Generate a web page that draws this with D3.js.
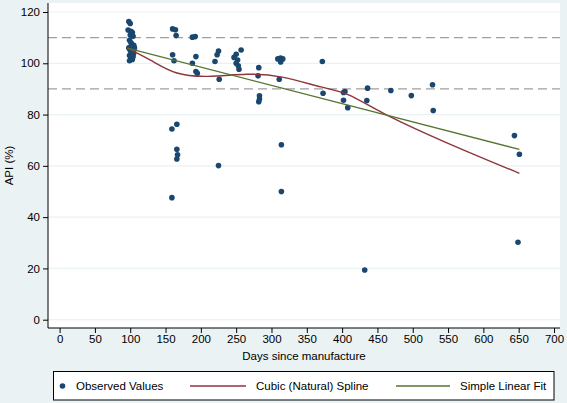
<!DOCTYPE html>
<html><head><meta charset="utf-8">
<script src="https://cdn.jsdelivr.net/npm/d3@7"></script>
<style>
html,body{margin:0;padding:0;background:#eaf2f3;}
svg{display:block;font-family:"Liberation Sans",Arial,sans-serif;}
</style></head>
<body><svg id="c" width="567" height="403"></svg>
<script>
// Observed values: days since manufacture
const obsDays = [98,100,97,101,103,100,104,99,102,105,98,103,100,102,99,104,101,103,99,106,105,101,104,
  160,164,165,160,162,159,166,166,167,166,159,
  192,188,193,188,193,195,
  225,223,220,226,225,
  250,257,252,254,250,247,253,
  282,281,283,282,283,
  313,309,316,313,311,314,314,
  372,373,402,404,402,408,436,435,432,469,498,528,529,644,651,649];
// Observed values: API (%)
const obsAPI = [116.3,115.5,113,112.5,112,111,110.5,109,107.5,107,106,105.5,105,104,103,103.5,102,101.5,101,106,104,108,102.5,
  113.4,113.1,110.8,103.3,101,74.4,76.2,66.5,64.3,62.7,47.6,
  110.4,110.2,102.6,100,96.8,96.1,
  104.8,103.3,100.7,93.8,60.1,
  103.5,105.2,101.3,97.7,100,102.3,99,
  98.3,95.1,87.3,85,86.1,
  102,101.7,101.7,100.5,93.8,68.2,50,
  100.7,88.3,88.6,89,85.6,82.7,90.3,85.5,19.4,89.4,87.4,91.6,81.6,71.8,64.5,30.2];
// Cubic (natural) spline fitted curve
const splineDays = [96,130,165,210,265,315,370,410,460,550,651];
const splineAPI  = [105.9,101,96.3,94.9,95.7,94.6,90.8,87.6,80.3,68.8,57.1];
// Simple linear fit, endpoints
const linDays = [96,651];
const linAPI  = [105.9,66.4];
// Axis ticks and reference lines
const xTicks = [0,50,100,150,200,250,300,350,400,450,500,550,600,650,700];
const yTicks = [0,20,40,60,80,100,120];
const refLines = [110,90];
const legendLabels = ["Observed Values","Cubic (Natural) Spline","Simple Linear Fit"];

const svg = d3.select("#c");
const navy="#1a476f", maroon="#90353b", green="#55752f", grid="#eaf2f3";
const pL=48, pR=560, pT=3, pB=328;
const x = d3.scaleLinear().domain([0,700]).range([59.6,554]);
const y = d3.scaleLinear().domain([0,120]).range([319.7,12]);

svg.append("rect").attr("x",pL).attr("y",pT).attr("width",pR-pL).attr("height",pB-pT).attr("fill","#fff");
// gridlines
svg.append("g").selectAll("line").data(yTicks).join("line")
  .attr("x1",pL).attr("x2",pR).attr("y1",d=>y(d)).attr("y2",d=>y(d))
  .attr("stroke",grid).attr("stroke-width",1.2);
// reference lines
svg.append("g").selectAll("line").data(refLines).join("line")
  .attr("x1",pL).attr("x2",pR).attr("y1",d=>y(d)).attr("y2",d=>y(d))
  .attr("stroke","#a0a0a0").attr("stroke-width",1.2).attr("stroke-dasharray","9,5");

// axes
const yAxis = d3.axisLeft(y).tickValues(yTicks).tickSize(5).tickPadding(3);
const gy = svg.append("g").attr("transform",`translate(${pL},0)`).call(yAxis);
gy.select(".domain").attr("d",`M0,${pT}V${pB}`).attr("stroke","#000");
const xAxis = d3.axisBottom(x).tickValues(xTicks).tickSize(5).tickPadding(2);
const gx = svg.append("g").attr("transform",`translate(0,${pB})`).call(xAxis);
gx.select(".domain").attr("d",`M${pL},0H${pR}`).attr("stroke","#000");
svg.selectAll(".tick text").attr("font-size",11.5).attr("font-family","Liberation Sans, Arial, sans-serif").attr("fill","#000");
svg.selectAll(".tick line").attr("stroke","#000");

svg.append("text").attr("x",304).attr("y",360).attr("text-anchor","middle").attr("font-size",11.5).text("Days since manufacture");
svg.append("text").attr("transform","translate(13,165.5) rotate(-90)").attr("text-anchor","middle").attr("font-size",11.5).text("API (%)");

// points
svg.append("g").selectAll("circle").data(obsDays.map((d,i)=>[d,obsAPI[i]])).join("circle")
  .attr("cx",d=>x(d[0])).attr("cy",d=>y(d[1])).attr("r",2.8).attr("fill",navy);
// spline
const line = d3.line().x(d=>x(d[0])).y(d=>y(d[1]));
svg.append("path").attr("d",line.curve(d3.curveNatural)(splineDays.map((d,i)=>[d,splineAPI[i]])))
  .attr("fill","none").attr("stroke",maroon).attr("stroke-width",1.4);
svg.append("path").attr("d",d3.line().x(d=>x(d[0])).y(d=>y(d[1]))(linDays.map((d,i)=>[d,linAPI[i]])))
  .attr("fill","none").attr("stroke",green).attr("stroke-width",1.4);

// legend
const lg = svg.append("g");
lg.append("rect").attr("x",53.5).attr("y",371.5).attr("width",500.5).attr("height",28.5).attr("fill","#fff").attr("stroke","#000").attr("stroke-width",1);
const ly = 386;
lg.append("circle").attr("cx",62.5).attr("cy",ly).attr("r",2.8).attr("fill",navy);
lg.append("text").attr("x",76).attr("y",ly+4).attr("font-size",11.5).text(legendLabels[0]);
lg.append("line").attr("x1",190).attr("x2",246).attr("y1",ly).attr("y2",ly).attr("stroke",maroon).attr("stroke-width",1.4);
lg.append("text").attr("x",256).attr("y",ly+4).attr("font-size",11.5).text(legendLabels[1]);
lg.append("line").attr("x1",396).attr("x2",450).attr("y1",ly).attr("y2",ly).attr("stroke",green).attr("stroke-width",1.4);
lg.append("text").attr("x",460).attr("y",ly+4).attr("font-size",11.5).text(legendLabels[2]);
</script></body></html>
